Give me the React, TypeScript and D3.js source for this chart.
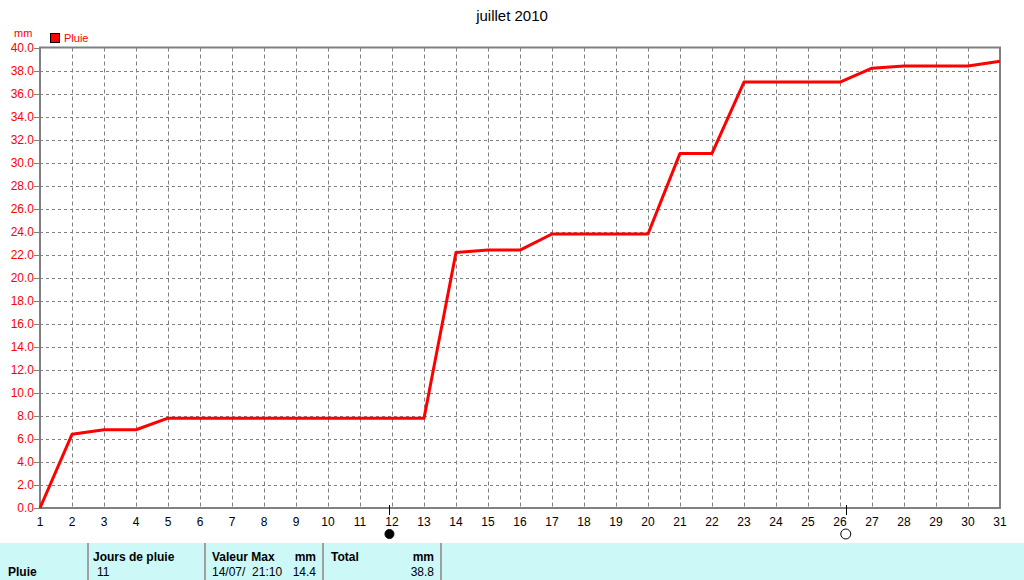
import * as d3 from "d3";

const days = d3.range(1, 32);
const rain = [
  0.0, 6.4, 6.8, 6.8, 7.8, 7.8, 7.8, 7.8, 7.8, 7.8, 7.8, 7.8, 7.8, 22.2, 22.4, 22.4,
  23.8, 23.8, 23.8, 23.8, 30.8, 30.8, 37.0, 37.0, 37.0, 37.0, 38.2, 38.4, 38.4, 38.4, 38.8,
];
const yTicks = d3.range(0, 40.1, 2);
const moons = [
  { day: 11.92, full: false },
  { day: 26.18, full: true },
];
const tableHead = ["Jours de pluie", "Valeur Max", "mm", "Total", "mm"];
const tableRow = ["Pluie", "11", "14/07/  21:10", "14.4", "38.8"];

const W = 1024;
const H = 580;
const FONT = "'Liberation Sans', Arial, sans-serif";
const GRID = "#808080";

export default function App() {
  const x = d3.scaleLinear().domain([1, 31]).range([40, 1000]);
  const y = d3.scaleLinear().domain([0, 40]).range([508, 47.5]);
  const line = d3
    .line<number>()
    .x((_, i) => x(days[i]))
    .y((d) => y(d));

  const cols = [88, 205, 323, 441];
  const px = (v: number) => Math.round(v) + 0.5;

  return (
    <svg
      width={W}
      height={H}
      style={{ position: "absolute", left: 0, top: 0, display: "block", background: "#fff" }}
      fontFamily={FONT}
    >
      <text x={512} y={21} textAnchor="middle" fontSize={15} fill="#000">
        juillet 2010
      </text>

      {/* legend */}
      <text x={14} y={37} fontSize={11} fill="#f00">
        mm
      </text>
      <rect x={50.5} y={33.5} width={9} height={9} fill="#f00" stroke="#000" />
      <text x={64} y={42} fontSize={11} fill="#f00">
        Pluie
      </text>

      {/* grid */}
      {days.slice(1, -1).map((d) => (
        <line
          key={"v" + d}
          x1={px(x(d))}
          x2={px(x(d))}
          y1={y(40)}
          y2={y(0)}
          stroke={GRID}
          strokeDasharray="4,3"
        />
      ))}
      {yTicks.slice(1, -1).map((t) => (
        <line
          key={"h" + t}
          x1={x(1)}
          x2={x(31)}
          y1={px(y(t))}
          y2={px(y(t))}
          stroke={GRID}
          strokeDasharray="3,3"
        />
      ))}

      {/* y axis ticks and labels */}
      {yTicks.map((t) => (
        <g key={"y" + t}>
          <line x1={34} x2={40} y1={px(y(t))} y2={px(y(t))} stroke={GRID} />
          <text
            x={34}
            y={y(t)}
            dy="0.36em"
            textAnchor="end"
            fontSize={12}
            fill="#f00"
          >
            {t.toFixed(1)}
          </text>
        </g>
      ))}

      {/* frame */}
      <rect
        x={x(1)}
        y={y(40)}
        width={x(31) - x(1)}
        height={y(0) - y(40)}
        fill="none"
        stroke={GRID}
        strokeWidth={2}
      />

      {/* x labels */}
      {days.map((d) => (
        <text key={"x" + d} x={x(d)} y={526} textAnchor="middle" fontSize={12} fill="#000">
          {d}
        </text>
      ))}

      {/* moon phases */}
      {moons.map((m) => (
        <g key={"m" + m.day}>
          <line x1={px(x(m.day))} x2={px(x(m.day))} y1={505} y2={515} stroke="#000" />
          <circle
            cx={x(m.day)}
            cy={534}
            r={m.full ? 5 : 4.5}
            fill={m.full ? "#fff" : "#000"}
            stroke="#000"
          />
        </g>
      ))}

      {/* data */}
      <path
        d={line(rain) ?? ""}
        fill="none"
        stroke="#f00"
        strokeWidth={3}
        strokeLinejoin="round"
      />

      {/* table */}
      <rect x={0} y={543} width={W} height={H - 543} fill="#ccf8f8" />
      {cols.map((c) => (
        <line key={"c" + c} x1={c} x2={c} y1={543} y2={H} stroke="#a0a0a0" strokeWidth={2} />
      ))}
      <g fontSize={12} fontWeight="bold" fill="#000">
        <text x={93} y={561}>{tableHead[0]}</text>
        <text x={212} y={561}>{tableHead[1]}</text>
        <text x={316} y={561} textAnchor="end">{tableHead[2]}</text>
        <text x={331} y={561}>{tableHead[3]}</text>
        <text x={434} y={561} textAnchor="end">{tableHead[4]}</text>
        <text x={8} y={576}>{tableRow[0]}</text>
      </g>
      <g fontSize={12} fill="#000">
        <text x={97} y={576}>{tableRow[1]}</text>
        <text x={212} y={576} style={{ whiteSpace: "pre" }}>{tableRow[2]}</text>
        <text x={316} y={576} textAnchor="end">{tableRow[3]}</text>
        <text x={434} y={576} textAnchor="end">{tableRow[4]}</text>
      </g>
    </svg>
  );
}
